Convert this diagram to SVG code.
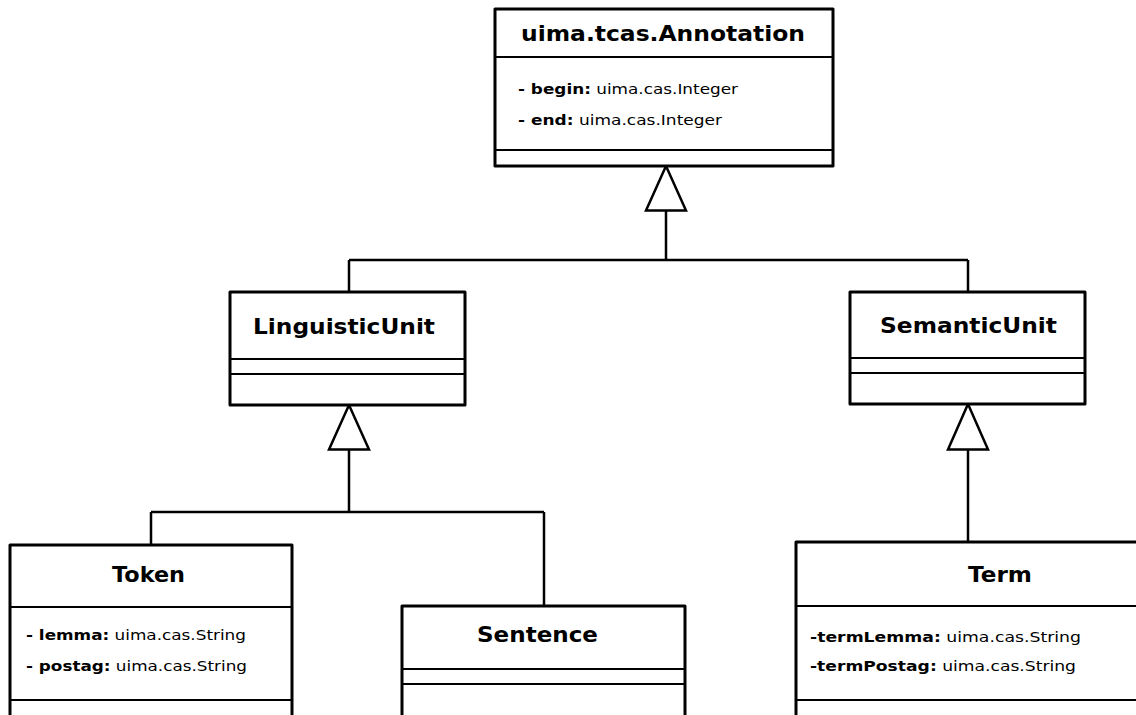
<svg xmlns="http://www.w3.org/2000/svg" width="1136" height="715" viewBox="0 0 1136 715">
  <style>
    .box { fill: #fff; stroke: #000; stroke-width: 3; stroke-linejoin: round; }
    .sep { stroke: #000; stroke-width: 2; }
    .title { font-family: "DejaVu Sans", sans-serif; font-weight: bold; font-size: 20.5px; fill: #000; }
    .attr { font-family: "DejaVu Sans", sans-serif; font-size: 14px; fill: #000; }
    .attr .n { font-weight: bold; }
    .wire { fill: none; stroke: #000; stroke-width: 2.5; }
    .head { fill: #fff; stroke: #000; stroke-width: 2.5; stroke-linejoin: miter; }
  </style>
  <rect width="1136" height="715" fill="#fff"/>

  <!-- generalization connectors -->
  <g id="connectors">
    <path class="wire" d="M666 210 V260 M349 260 H968 M349 260 V292 M968 260 V292"/>
    <polygon class="head" points="666,166 646,210.5 686,210.5"/>
    <path class="wire" d="M349 449 V512 M151 512 H544 M151 512 V545 M544 512 V606"/>
    <polygon class="head" points="349,405 329,449.5 369,449.5"/>
    <path class="wire" d="M968 449 V542"/>
    <polygon class="head" points="968,404 948,449.5 988,449.5"/>
  </g>

  <g id="annotation">
    <rect class="box" x="495" y="9" width="338" height="157"/>
    <line class="sep" x1="495" y1="57" x2="833" y2="57"/>
    <line class="sep" x1="495" y1="150" x2="833" y2="150"/>
    <text class="title" x="521" y="41" textLength="284" lengthAdjust="spacingAndGlyphs">uima.tcas.Annotation</text>
    <text class="attr" x="518" y="94" textLength="220" lengthAdjust="spacingAndGlyphs"><tspan class="n">- begin:</tspan> uima.cas.Integer</text>
    <text class="attr" x="518" y="125" textLength="204" lengthAdjust="spacingAndGlyphs"><tspan class="n">- end:</tspan> uima.cas.Integer</text>
  </g>

  <g id="linguisticUnit">
    <rect class="box" x="230" y="292" width="235" height="113"/>
    <line class="sep" x1="230" y1="359" x2="465" y2="359"/>
    <line class="sep" x1="230" y1="374" x2="465" y2="374"/>
    <text class="title" x="253" y="334" textLength="182" lengthAdjust="spacingAndGlyphs">LinguisticUnit</text>
  </g>

  <g id="semanticUnit">
    <rect class="box" x="850" y="292" width="235" height="112"/>
    <line class="sep" x1="850" y1="358" x2="1085" y2="358"/>
    <line class="sep" x1="850" y1="373" x2="1085" y2="373"/>
    <text class="title" x="880" y="333" textLength="177" lengthAdjust="spacingAndGlyphs">SemanticUnit</text>
  </g>

  <g id="token">
    <rect class="box" x="10" y="545" width="282" height="200"/>
    <line class="sep" x1="10" y1="607" x2="292" y2="607"/>
    <line class="sep" x1="10" y1="700" x2="292" y2="700"/>
    <text class="title" x="112" y="582" textLength="73" lengthAdjust="spacingAndGlyphs">Token</text>
    <text class="attr" x="26" y="640" textLength="220" lengthAdjust="spacingAndGlyphs"><tspan class="n">- lemma:</tspan> uima.cas.String</text>
    <text class="attr" x="26" y="671" textLength="221" lengthAdjust="spacingAndGlyphs"><tspan class="n">- postag:</tspan> uima.cas.String</text>
  </g>

  <g id="sentence">
    <rect class="box" x="402" y="606" width="283" height="140"/>
    <line class="sep" x1="402" y1="669" x2="685" y2="669"/>
    <line class="sep" x1="402" y1="684" x2="685" y2="684"/>
    <text class="title" x="477" y="642" textLength="121" lengthAdjust="spacingAndGlyphs">Sentence</text>
  </g>

  <g id="term">
    <rect class="box" x="796" y="542" width="400" height="200"/>
    <line class="sep" x1="796" y1="606" x2="1196" y2="606"/>
    <line class="sep" x1="796" y1="700" x2="1196" y2="700"/>
    <text class="title" x="968" y="582" textLength="64" lengthAdjust="spacingAndGlyphs">Term</text>
    <text class="attr" x="810" y="642" textLength="271" lengthAdjust="spacingAndGlyphs"><tspan class="n">-termLemma:</tspan> uima.cas.String</text>
    <text class="attr" x="810" y="671" textLength="266" lengthAdjust="spacingAndGlyphs"><tspan class="n">-termPostag:</tspan> uima.cas.String</text>
  </g>
</svg>
